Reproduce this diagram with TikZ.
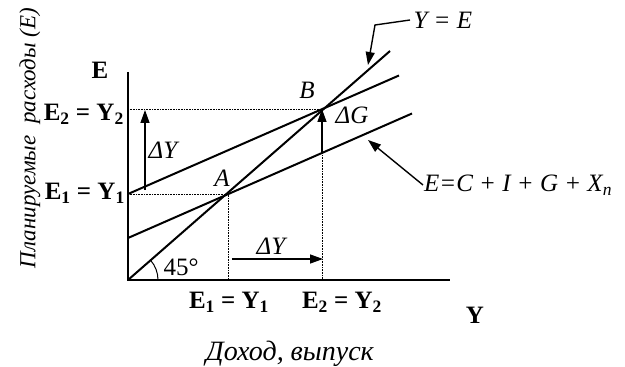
\documentclass[tikz,border=0pt]{standalone}
\usepackage{fontspec}
\setmainfont{Liberation Serif}
\usetikzlibrary{arrows.meta,calc}

\begin{document}
\begin{tikzpicture}[x=1pt,y=1pt,font=\fontsize{25}{30}\selectfont,
	curve/.style={line width=2pt},
	guide/.style={densely dotted,line width=0.6pt},
	boldlabel/.style={font=\fontsize{25}{30}\selectfont\bfseries},
	shiftarrow/.style={line width=1.4pt,-{Triangle[length=13pt,width=9pt]}}]
		\useasboundingbox (-128,-87) rectangle (497,280);
		
		% Axes
		\coordinate (O) at (0,0);
		\coordinate (Etop) at (0,208);
		\coordinate (Yend) at (322,0);
		\draw[curve] (Etop) -- (O) -- (Yend);
		
		% Equilibrium points
		\coordinate (A) at (100,86);
		\coordinate (B) at (194,171);
		\coordinate (E1) at (0,86);
		\coordinate (E2) at (0,171);
		\coordinate (Y1) at (100,0);
		\coordinate (Y2) at (194,0);
		
		% Guide lines
		\draw[guide] (E1) -- (A) -- (Y1);
		\draw[guide] (E2) -- (B) -- (Y2);
		
		% 45 degree line
		\coordinate (Dend) at (262,229);
		\draw[curve] (O) -- (Dend);
		
		% Spending lines
		\coordinate (Lstart) at (0,42);
		\coordinate (Lend) at (284,166.5);
		\coordinate (Uend) at (271,204.5);
		\draw[curve] (Lstart) -- (Lend);
		\draw[curve] (E1) -- (Uend);
		
		% Angle
		\draw[line width=1pt] (30,0) arc (0:41:30);
		\node[inner sep=0pt] (angle) at (53,13) {45°};
		
		% Shifts
		\coordinate (dYl0) at (17,90);
		\coordinate (dYl1) at (17,170);
		\draw[shiftarrow] (dYl0) -- (dYl1);
		\node (dYleft) at (36,130) {\textit{ΔY}};
		\coordinate (dG0) at (194,127);
		\draw[shiftarrow] (dG0) -- (B);
		\node (dG) at (224,165) {\textit{ΔG}};
		\coordinate (dYb0) at (104,21);
		\coordinate (dYb1) at (195,21);
		\draw[shiftarrow] (dYb0) -- (dYb1);
		\node (dYbottom) at (144,34) {\textit{ΔY}};
		
		% Point labels
		\node (labA) at (94,102) {\textit{A}};
		\node (labB) at (179,190) {\textit{B}};
		
		% Axis labels
		\node[boldlabel] (labE) at (-28,210) {E};
		\node[boldlabel,anchor=east,inner sep=1pt] (labE2) at (-3,166) {E\textsubscript{2} = Y\textsubscript{2}};
		\node[boldlabel,anchor=east,inner sep=1pt] (labE1) at (-2,87) {E\textsubscript{1} = Y\textsubscript{1}};
		\node[boldlabel] (labY1) at (101,-22) {E\textsubscript{1} = Y\textsubscript{1}};
		\node[boldlabel] (labY2) at (214,-22) {E\textsubscript{2} = Y\textsubscript{2}};
		\node[boldlabel] (labY) at (347,-35) {Y};
		\node[font=\fontsize{28}{32}\selectfont,inner sep=0pt] (income) at (162,-74) {\textit{Доход, выпуск}};
		\node[rotate=90,font=\fontsize{23}{28}\selectfont] (spending) at (-98,142) {\textit{Планируемые\ \ расходы (E)}};
		
		% Line names
		\node[anchor=west] (nameD) at (282,260) {\textit{Y = E}};
		\coordinate (kink) at (247,255);
		\coordinate (tipD) at (240,215);
		\draw[shiftarrow] (nameD.west) -- (kink) -- (tipD);
		\node[anchor=west,inner sep=1pt] (nameE) at (295,95) {\textit{E=C + I + G + X\textsubscript{n}}};
		\coordinate (tipE) at (240,140);
		\draw[shiftarrow] (nameE.west) -- (tipE);
	\end{tikzpicture}
\end{document}
